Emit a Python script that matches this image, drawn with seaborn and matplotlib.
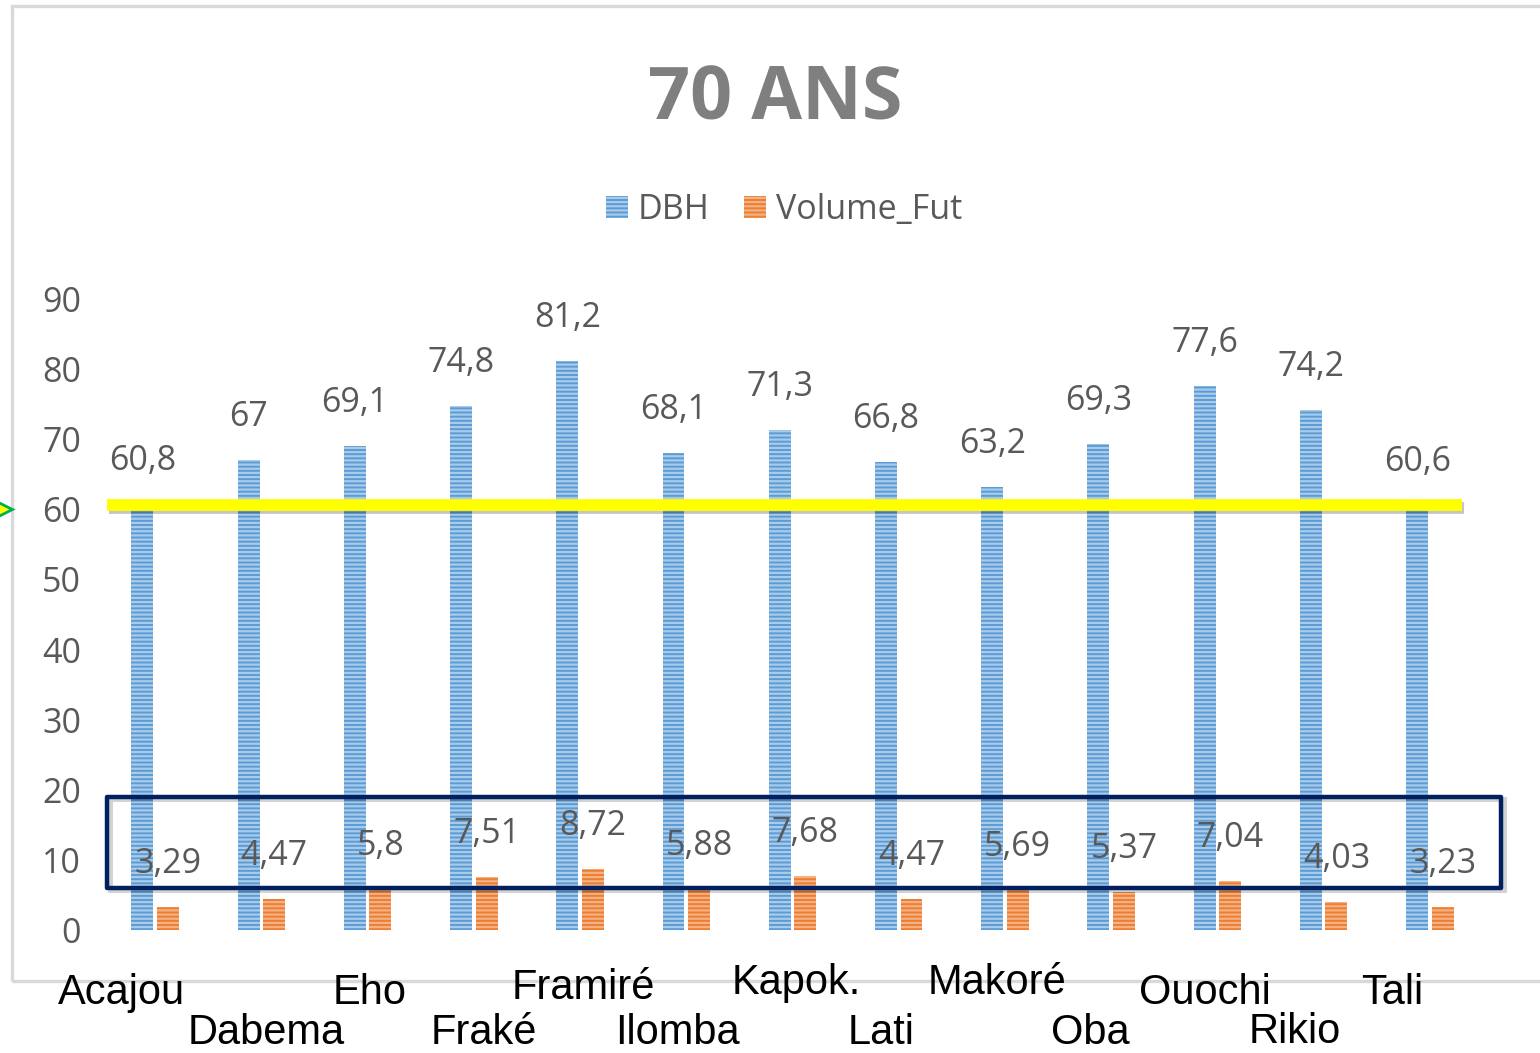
import numpy as np
import pandas as pd
import seaborn as sns
import matplotlib
matplotlib.use("Agg")
import matplotlib.pyplot as plt
from matplotlib import font_manager
from matplotlib.patches import Rectangle, Patch
from matplotlib.lines import Line2D
import matplotlib.patheffects as pe
import matplotlib.transforms as mtransforms

# ---------------- data ----------------
species = ["Acajou", "Dabema", "Eho", "Fraké", "Framiré", "Ilomba", "Kapok.",
           "Lati", "Makoré", "Oba", "Ouochi", "Rikio", "Tali"]
dbh = [60.8, 67, 69.1, 74.8, 81.2, 68.1, 71.3, 66.8, 63.2, 69.3, 77.6, 74.2, 60.6]
volume_fut = [3.29, 4.47, 5.8, 7.51, 8.72, 5.88, 7.68, 4.47, 5.69, 5.37, 7.04, 4.03, 3.23]
series = ["DBH", "Volume_Fut"]
title = "70 ANS"
yticks = [0, 10, 20, 30, 40, 50, 60, 70, 80, 90]
threshold = 60

# ---------------- style ----------------
sns.set_theme(style="white")
plt.rcParams["font.family"] = ["Open Sans", "DejaVu Sans"]
plt.rcParams["hatch.linewidth"] = 1.6

names = {f.name for f in font_manager.fontManager.ttflist}
if "Liberation Sans Narrow" in names:
    cat_family, cat_size = ["Liberation Sans Narrow", "Liberation Sans"], 34
else:
    cat_family, cat_size = ["Liberation Sans", "DejaVu Sans"], 30

colors = ["#5B9BD5", "#ED7D31"]
stripe = ["#A9CBEA", "#F4B183"]
text_gray = "#595959"
fs = 24.5

df = pd.DataFrame({
    "Espèce": species * 2,
    "Série": [series[0]] * len(species) + [series[1]] * len(species),
    "Valeur": dbh + volume_fut,
})

W, H = 1540, 1053
fig = plt.figure(figsize=(W / 100, H / 100), dpi=100)
fig.patch.set_facecolor("white")

# outer light-gray chart frame
fig.add_artist(Rectangle((12 / W, 1 - 981 / H), 1.2, (981 - 6) / H,
                         transform=fig.transFigure, fill=False,
                         edgecolor="#D9D9D9", lw=2.4, zorder=0))

ax = fig.add_axes([102 / W, (H - 930) / H, 1381 / W, 631 / H])
sns.barplot(data=df, x="Espèce", y="Valeur", hue="Série", palette=colors,
            saturation=1, width=0.48, gap=0.14, legend=False, ax=ax,
            err_kws={"linewidth": 0})

ax.set_xlim(-0.5, len(species) - 0.5)
ax.set_ylim(0, 90)
ax.set_yticks(yticks)
ax.set_yticklabels([str(t) for t in yticks], color=text_gray, fontsize=fs)
ax.tick_params(axis="y", length=0, pad=15)
ax.tick_params(axis="x", length=0)
ax.set_xticklabels([])
ax.set_xlabel("")
ax.set_ylabel("")
for s in ax.spines.values():
    s.set_visible(False)
ax.set_facecolor("none")

for cont, st in zip(ax.containers, stripe):
    for bar in cont:
        bar.set_edgecolor(st)
        bar.set_linewidth(0)
        bar.set_hatch("----")
        val = bar.get_height()
        ax.annotate(f"{val:g}".replace(".", ","),
                    (bar.get_x() + bar.get_width() / 2, val),
                    xytext=(0, 43), textcoords="offset pixels",
                    ha="center", va="center", fontsize=fs, color=text_gray,
                    zorder=6, annotation_clip=False)

# yellow threshold line
n = len(species)
ax.hlines(threshold + 0.6, -0.45, n - 1 + 0.3, color="#FFFF00", lw=8.5, zorder=4,
          path_effects=[pe.SimpleLineShadow(offset=(1.5, -2), alpha=0.25), pe.Normal()])

# navy box around Volume_Fut labels (with a soft shadow)
box_x0, box_y0, box_w, box_h = -0.45, 6.0, n - 1 + 0.67 + 0.45, 13.0
shadow_tr = mtransforms.offset_copy(ax.transData, fig=fig, x=2.5, y=-2.5, units="dots")
ax.add_patch(Rectangle((box_x0, box_y0), box_w, box_h, fill=False,
                       edgecolor="#000000", alpha=0.18, lw=3.5, zorder=4.9,
                       clip_on=False, transform=shadow_tr))
ax.add_patch(Rectangle((box_x0, box_y0), box_w, box_h, fill=False,
                       edgecolor="#002060", lw=3.2, zorder=5, clip_on=False,
                       joinstyle="round"))

# small arrow marker on the left edge
fig.add_artist(Line2D([0.0], [1 - 509 / H], marker=">", markersize=17,
                      markerfacecolor="#FFFF00", markeredgecolor="#00B050",
                      markeredgewidth=2, transform=fig.transFigure, lw=0))

# species labels (staggered, black, outside the chart)
label_dx = [-34, 5, 2, 10, 3, -9, 4, -18, -8, -21, -13, -29, -38]
label_dy = [74, 114, 74, 114, 69, 114, 64, 114, 64, 114, 74, 113, 74]
for i, (name, dx, dy) in enumerate(zip(species, label_dx, label_dy)):
    ax.annotate(name, (i, 0), xycoords=("data", "axes fraction"),
                xytext=(dx, -dy), textcoords="offset pixels",
                ha="center", va="baseline", fontsize=cat_size, color="black",
                family=cat_family, annotation_clip=False, zorder=7)

# title
fig.text(775 / W, 1 - 119 / H, title, ha="center", va="baseline", fontsize=53,
         fontweight="bold", color="#7F7F7F")

# legend
handles = [Patch(facecolor=c, edgecolor=s, hatch="----", linewidth=0)
           for c, s in zip(colors, stripe)]
fig.legend(handles, series, loc="center", bbox_to_anchor=(784 / W, 1 - 210 / H),
           ncol=2, frameon=False, fontsize=fs, labelcolor=text_gray,
           handlelength=0.65, handleheight=0.65, handletextpad=0.3,
           columnspacing=1.0)

fig.savefig("out.png", dpi=100, facecolor="white")
